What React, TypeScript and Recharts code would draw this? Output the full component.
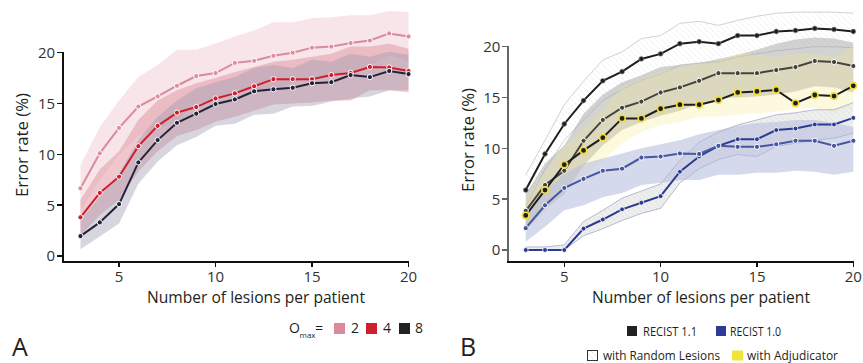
import React from 'react';
import { ComposedChart, Line, Area, XAxis, YAxis } from 'recharts';

// number of lesions per patient
const lesions = [3, 4, 5, 6, 7, 8, 9, 10, 11, 12, 13, 14, 15, 16, 17, 18, 19, 20];
const xTicks = [5, 10, 15, 20];
const yTicks = [0, 5, 10, 15, 20];

// panel A: O_max = 2 / 4 / 8 (mean, band low, band high)
const omax2 = [6.65, 10.1, 12.6, 14.7, 15.7, 16.75, 17.7, 18.0, 19.0, 19.2, 19.7, 20.0, 20.5, 20.6, 20.95, 21.2, 21.9, 21.6];
const omax2Lo = [4.35, 7.5, 9.9, 11.8, 12.6, 13.2, 15.1, 15.1, 16.4, 16.2, 16.4, 17.0, 17.6, 17.7, 18.2, 18.7, 19.7, 19.2];
const omax2Hi = [8.95, 12.7, 15.3, 17.6, 18.8, 20.3, 20.3, 20.9, 21.6, 22.2, 23.0, 23.0, 23.4, 23.5, 23.7, 23.7, 24.1, 24.0];

const omax4 = [3.8, 6.2, 7.8, 10.8, 12.8, 14.1, 14.65, 15.5, 16.0, 16.7, 17.4, 17.4, 17.4, 17.8, 18.0, 18.6, 18.55, 18.2];
const omax4Lo = [2.0, 4.0, 5.5, 8.3, 10.3, 11.8, 12.4, 13.2, 13.7, 14.3, 14.9, 15.0, 15.1, 15.3, 15.3, 16.3, 16.3, 16.1];
const omax4Hi = [5.5, 8.5, 10.3, 13.4, 15.3, 16.3, 17.0, 17.5, 18.1, 18.6, 19.1, 19.3, 19.6, 19.9, 20.6, 20.6, 20.9, 20.4];

const omax8 = [1.95, 3.3, 5.1, 9.2, 11.4, 13.1, 14.0, 14.95, 15.4, 16.2, 16.4, 16.55, 17.0, 17.1, 17.8, 17.6, 18.2, 17.9];
const omax8Lo = [0.65, 1.9, 3.2, 7.1, 9.3, 10.9, 11.7, 12.8, 13.0, 13.9, 14.0, 14.7, 14.75, 15.2, 15.5, 15.7, 16.3, 16.3];
const omax8Hi = [3.5, 5.8, 8.1, 11.4, 13.7, 15.3, 16.5, 17.1, 17.6, 18.5, 18.8, 18.5, 19.3, 19.1, 19.9, 19.6, 20.1, 19.8];

// panel B
const r11Random = [5.9, 9.45, 12.4, 14.7, 16.65, 17.55, 18.8, 19.3, 20.3, 20.5, 20.3, 21.1, 21.1, 21.5, 21.6, 21.8, 21.7, 21.5];
const r11RandomLo = [4.3, 7.9, 10.8, 12.8, 14.7, 15.8, 16.7, 17.3, 18.2, 18.4, 18.5, 19.0, 19.3, 19.6, 19.8, 20.0, 20.0, 19.9];
const r11RandomHi = [7.4, 10.8, 14.3, 16.6, 18.7, 19.5, 20.8, 21.1, 22.3, 22.5, 22.1, 22.6, 23.0, 23.3, 23.4, 23.4, 23.4, 23.3];

const r11 = [3.85, 6.4, 7.8, 10.75, 12.8, 14.0, 14.6, 15.5, 16.0, 16.65, 17.4, 17.4, 17.4, 17.7, 18.0, 18.6, 18.5, 18.1];
const r11Lo = [2.0, 4.0, 5.5, 8.3, 10.3, 11.8, 12.6, 13.2, 13.7, 14.4, 14.9, 15.0, 15.1, 15.3, 15.6, 16.1, 16.0, 15.5];
const r11Hi = [5.5, 8.5, 10.3, 13.4, 15.3, 16.5, 17.2, 18.0, 18.2, 18.4, 18.8, 19.2, 19.7, 20.3, 20.7, 20.9, 20.8, 20.4];

const adj = [3.4, 5.9, 8.4, 9.8, 11.05, 12.95, 12.95, 13.9, 14.3, 14.3, 14.75, 15.5, 15.6, 15.75, 14.45, 15.25, 15.15, 16.15];
const adjLo = [1.8, 3.8, 5.8, 7.4, 8.8, 10.5, 11.6, 12.3, 12.6, 13.1, 13.1, 13.3, 13.45, 13.6, 13.9, 14.0, 13.5, 14.5];
const adjHi = [5.0, 7.8, 10.2, 12.0, 13.9, 16.0, 16.8, 17.6, 18.0, 18.3, 18.6, 19.3, 19.2, 19.0, 19.3, 19.3, 19.0, 20.1];

const r10 = [2.15, 4.4, 6.1, 7.0, 7.8, 8.0, 9.1, 9.2, 9.5, 9.45, 10.25, 10.15, 10.15, 10.4, 10.75, 10.75, 10.25, 10.75];
const r10Lo = [0.8, 2.3, 3.9, 4.4, 5.2, 5.6, 6.4, 6.6, 6.9, 6.9, 7.4, 7.4, 7.6, 7.6, 7.8, 7.7, 7.4, 7.7];
const r10Hi = [3.5, 5.8, 7.5, 8.5, 9.0, 9.5, 10.0, 10.4, 10.8, 11.4, 11.8, 12.2, 12.5, 12.6, 12.8, 12.8, 12.5, 12.1];

const r10Random = [0, 0, 0, 2.1, 3.0, 4.0, 4.65, 5.3, 7.7, 9.2, 10.25, 10.9, 10.9, 11.8, 11.95, 12.35, 12.35, 13.0];
const r10RandomLo = [0, 0, 0, 1.4, 2.1, 2.9, 3.6, 4.1, 6.6, 8.0, 8.9, 9.4, 9.2, 10.2, 10.5, 10.8, 11.0, 11.5];
const r10RandomHi = [0.3, 0.3, 0.5, 2.8, 3.9, 5.1, 5.8, 6.5, 8.8, 10.6, 11.6, 12.3, 12.8, 13.3, 13.5, 13.8, 13.8, 14.5];

const dataA = lesions.map((x, i) => ({
  x,
  o2: omax2[i], o2Band: [omax2Lo[i], omax2Hi[i]],
  o4: omax4[i], o4Band: [omax4Lo[i], omax4Hi[i]],
  o8: omax8[i], o8Band: [omax8Lo[i], omax8Hi[i]],
}));

const dataB = lesions.map((x, i) => ({
  x,
  r11r: r11Random[i], r11rBand: [r11RandomLo[i], r11RandomHi[i]],
  r11: r11[i], r11Band: [r11Lo[i], r11Hi[i]],
  adj: adj[i], adjBand: [adjLo[i], adjHi[i]],
  r10: r10[i], r10Band: [r10Lo[i], r10Hi[i]],
  r10r: r10Random[i], r10rBand: [r10RandomLo[i], r10RandomHi[i]],
}));

const FONT = '"Open Sans", "Noto Sans", sans-serif';
const TEXT = '#231f20';

// panel geometry, shared by the charts and the axis frame
const X_DOMAIN = [2.1, 20];
const panelA = { left: 0, width: 430, top: 7, right: 21.5, bottom: 71, yAxisW: 63.1, yDomain: [-0.6, 24.5] };
const panelB = { left: 430, width: 433, top: 1, right: 9.7, bottom: 70.8, yAxisW: 78.4, yDomain: [-1.2, 24.5] };
const CH = 363;
const X_AXIS_H = 30;

const dot = (fill: string, stroke = '#fff', r = 2.6, sw = 1) => ({ r, fill, stroke, strokeWidth: sw });

const XTick = (p: any) => (
  <text x={p.x} y={p.y} dy="0.75em" textAnchor="middle" fontSize={15} fill="#333" fontFamily={FONT}>{p.payload.value}</text>
);
const YTick = (p: any) => (
  <text x={p.x} y={p.y} dy="0.36em" textAnchor="end" fontSize={15} fill="#333" fontFamily={FONT}>{p.payload.value}</text>
);

const geom = (g: typeof panelA) => {
  const x0 = g.left + g.yAxisW;
  const x1 = g.left + g.width - g.right;
  const y1 = CH - g.bottom - X_AXIS_H;
  const y0 = g.top;
  const sx = (v: number) => x0 + ((v - X_DOMAIN[0]) / (X_DOMAIN[1] - X_DOMAIN[0])) * (x1 - x0);
  const sy = (v: number) => y1 - ((v - g.yDomain[0]) / (g.yDomain[1] - g.yDomain[0])) * (y1 - y0);
  return { x0, x1, y1, sx, sy };
};

// axis frame as plain boxes: y axis stops at 20, x axis along the bottom
function Frame({ g, yColor }: { g: typeof panelA; yColor: string }) {
  const { x0, x1, y1, sx, sy } = geom(g);
  const box = (key: string, left: number, top: number, w: number, h: number, c: string) => (
    <div key={key} style={{ position: 'absolute', left, top, width: w, height: h, background: c }} />
  );
  return (
    <>
      {box('ya', x0 - 1, sy(20) - 0.75, 2, y1 - sy(20) + 1.75, yColor)}
      {yTicks.map((t) => box('yt' + t, x0 - 6, sy(t) - 0.75, 6, 1.5, yColor))}
      {box('xa', x0 - 1, y1 - 1, x1 - x0 + 2, 2, '#111')}
      {xTicks.map((t) => box('xt' + t, sx(t) - 0.75, y1, 1.5, 5, '#111'))}
    </>
  );
}

export default function App() {
  return (
    <div style={{ position: 'absolute', left: 0, top: 0, width: 863, height: 363, background: '#fff', overflow: 'hidden' }}>
      <svg width={0} height={0} style={{ position: 'absolute' }}>
        <defs>
          <pattern id="hatch" patternUnits="userSpaceOnUse" width={6} height={6}>
            <path d="M0,0 L6,6" stroke="#c4c4c4" strokeWidth={0.7} strokeDasharray="1 1" />
          </pattern>
          <pattern id="hatchBlue" patternUnits="userSpaceOnUse" width={6} height={6}>
            <path d="M0,0 L6,6" stroke="#b8bcd4" strokeWidth={0.7} strokeDasharray="1 1" />
          </pattern>
        </defs>
      </svg>

      {/* Panel A */}
      <div style={{ position: 'absolute', left: panelA.left, top: 0 }}>
        <ComposedChart width={panelA.width} height={CH} data={dataA}
          margin={{ top: panelA.top, right: panelA.right, left: 0, bottom: panelA.bottom }}>
          <Area dataKey="o2Band" type="linear" stroke="none" fill="#f3d3da" fillOpacity={0.6} isAnimationActive={false} activeDot={false} />
          <Area dataKey="o4Band" type="linear" stroke="none" fill="#e29aa5" fillOpacity={0.55} isAnimationActive={false} activeDot={false} />
          <Area dataKey="o8Band" type="linear" stroke="none" fill="#9c98b0" fillOpacity={0.4} isAnimationActive={false} activeDot={false} />
          <XAxis dataKey="x" type="number" domain={X_DOMAIN} ticks={xTicks}
            axisLine={false} tickLine={false} tickSize={4} tickMargin={5} height={X_AXIS_H} tick={XTick} />
          <YAxis type="number" domain={panelA.yDomain} ticks={yTicks} width={panelA.yAxisW}
            axisLine={false} tickLine={false} tickSize={5} tickMargin={3} tick={YTick} />
          <Line dataKey="o2" type="linear" stroke="#d98a9b" strokeWidth={2} dot={dot('#dc8fa0')} activeDot={false} isAnimationActive={false} />
          <Line dataKey="o4" type="linear" stroke="#cf1f2e" strokeWidth={2} dot={dot('#cf1f2e')} activeDot={false} isAnimationActive={false} />
          <Line dataKey="o8" type="linear" stroke="#23223a" strokeWidth={2} dot={dot('#23223a')} activeDot={false} isAnimationActive={false} />
        </ComposedChart>
      </div>

      {/* Panel B */}
      <div style={{ position: 'absolute', left: panelB.left, top: 0 }}>
        <ComposedChart width={panelB.width} height={CH} data={dataB}
          margin={{ top: panelB.top, right: panelB.right, left: 0, bottom: panelB.bottom }}>
          <Area dataKey="r11rBand" type="linear" stroke="#d2d2d2" strokeWidth={1} fill="url(#hatch)" isAnimationActive={false} activeDot={false} />
          <Area dataKey="r11Band" type="linear" stroke="none" fill="#a0a0a0" fillOpacity={0.48} isAnimationActive={false} activeDot={false} />
          <Area dataKey="adjBand" type="linear" stroke="none" fill="#f7ea8c" fillOpacity={0.28} isAnimationActive={false} activeDot={false} />
          <Area dataKey="r10rBand" type="linear" stroke="none" fill="#cfcfc6" fillOpacity={0.35} isAnimationActive={false} activeDot={false} />
          <Area dataKey="r10Band" type="linear" stroke="none" fill="#b9c0e0" fillOpacity={0.6} isAnimationActive={false} activeDot={false} />
          <Area dataKey="r10rBand" type="linear" stroke="#b4bad6" strokeWidth={1} fill="url(#hatchBlue)" isAnimationActive={false} activeDot={false} />
          <XAxis dataKey="x" type="number" domain={X_DOMAIN} ticks={xTicks}
            axisLine={false} tickLine={false} tickSize={4} tickMargin={5} height={X_AXIS_H} tick={XTick} />
          <YAxis type="number" domain={panelB.yDomain} ticks={yTicks} width={panelB.yAxisW}
            axisLine={false} tickLine={false} tickSize={5} tickMargin={3} tick={YTick} />
          <Line dataKey="r10r" type="linear" stroke="#2b3a92" strokeWidth={2} dot={dot('#2b3a92', '#fff', 2.4, 0.8)} activeDot={false} isAnimationActive={false} />
          <Line dataKey="r10" type="linear" stroke="#4756a0" strokeWidth={2} dot={dot('#4756a0')} activeDot={false} isAnimationActive={false} />
          <Line dataKey="r11r" type="linear" stroke="#1e1e1e" strokeWidth={2} dot={dot('#1e1e1e', '#888', 2.4, 0.6)} activeDot={false} isAnimationActive={false} />
          <Line dataKey="r11" type="linear" stroke="#46443a" strokeWidth={2} dot={dot('#46443a')} activeDot={false} isAnimationActive={false} />
          <Line dataKey="adj" type="linear" stroke="#1e1e1e" strokeWidth={2} dot={dot('#1e1e1e', '#f0df3a', 3.2, 1.6)} activeDot={false} isAnimationActive={false} />
        </ComposedChart>
      </div>

      {/* axis frames */}
      <Frame g={panelA} yColor="#111" />
      <Frame g={panelB} yColor="#666" />

      {/* titles and legends */}
      <svg width={863} height={363} style={{ position: 'absolute', left: 0, top: 0, pointerEvents: 'none' }} fontFamily={FONT}>
        <g fill={TEXT}>
          <text x={256} y={303} textAnchor="middle" fontSize={15.5} textLength={218} lengthAdjust="spacingAndGlyphs">Number of lesions per patient</text>
          <text x={701} y={303} textAnchor="middle" fontSize={15.5} textLength={218} lengthAdjust="spacingAndGlyphs">Number of lesions per patient</text>
          <text transform="translate(28,145) rotate(-90)" textAnchor="middle" fontSize={15.5} textLength={104} lengthAdjust="spacingAndGlyphs">Error rate (%)</text>
          <text transform="translate(473.5,140) rotate(-90)" textAnchor="middle" fontSize={15.5} textLength={104} lengthAdjust="spacingAndGlyphs">Error rate (%)</text>

          <text x={12} y={356} fontSize={25}>A</text>
          <text x={460} y={356} fontSize={25}>B</text>

          <text x={289} y={333} fontSize={14}>O</text>
          <text x={299.5} y={338} fontSize={8}>max</text>
          <text x={315} y={333} fontSize={14}>=</text>
          <rect x={334} y={323} width={11} height={11} fill="#d98a9b" />
          <text x={351} y={333} fontSize={14}>2</text>
          <rect x={366} y={323} width={11} height={11} fill="#cf1f2e" />
          <text x={383} y={333} fontSize={14}>4</text>
          <rect x={399} y={323} width={11} height={11} fill="#222" />
          <text x={415} y={333} fontSize={14}>8</text>

          <rect x={627} y={326} width={10} height={10} fill="#222" />
          <text x={643} y={336} fontSize={13.5} textLength={54} lengthAdjust="spacingAndGlyphs">RECIST 1.1</text>
          <rect x={716} y={326} width={10} height={10} fill="#2e3a96" />
          <text x={730} y={336} fontSize={13.5} textLength={51} lengthAdjust="spacingAndGlyphs">RECIST 1.0</text>

          <rect x={587.5} y={350.5} width={10} height={10} fill="url(#hatch)" stroke="#333" strokeWidth={1} />
          <text x={603} y={360} fontSize={13.5} textLength={117} lengthAdjust="spacingAndGlyphs">with Random Lesions</text>
          <rect x={732} y={350.5} width={11} height={10} fill="#f0e43c" />
          <text x={747} y={360} fontSize={13.5} textLength={91} lengthAdjust="spacingAndGlyphs">with Adjudicator</text>
        </g>
      </svg>
    </div>
  );
}
